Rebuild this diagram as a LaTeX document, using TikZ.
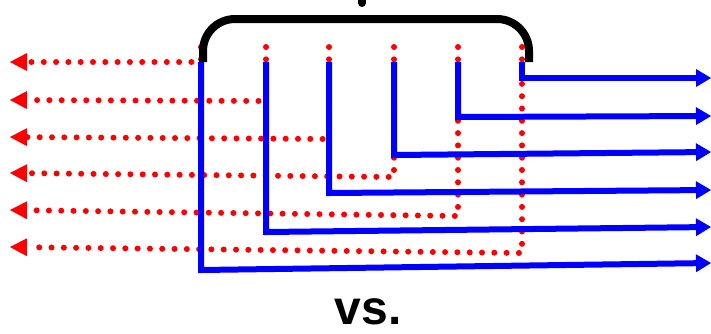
\documentclass[tikz,border=0pt]{standalone}
\usepackage{fontspec}
\setmainfont{Liberation Sans}
\usetikzlibrary{arrows.meta}

\tikzset{
  redpath/.style={draw=red, line width=6pt, line cap=round,
    dash pattern=on 0pt off 12.3pt,
    -{Triangle[length=17pt,width=18pt,fill=red,line width=0pt]}},
  bluepath/.style={draw=blue, line width=6pt, line join=miter,
    -{Triangle[length=15pt,width=18pt,fill=blue,line width=0pt]}},
  bracket/.style={draw=black, line width=8pt, rounded corners=32pt},
}

\begin{document}
\begin{tikzpicture}[x=1pt,y=-1pt]
  \useasboundingbox (0,0) rectangle (711,333);

  % top ends of the six strands
  \foreach \i/\x in {1/201,2/266,3/329,4/394,5/458,6/522}{
    \coordinate (rt\i) at (\x,47);
    \coordinate (bt\i) at (\x,62);
  }

  % red strands: down, then left to the arrowheads
  \foreach \i/\x/\yr/\yl in {1/201/62/62,2/266/101/100,3/329/139/137,
                             4/394/177/173,5/458/216/210,6/522/253/247}{
    \coordinate (rc\i) at (\x,\yr);
    \coordinate (re\i) at (10,\yl);
    \draw[redpath] (rt\i) -- (rc\i) -- (re\i);
  }

  % blue strands: down, then right to the arrowheads
  \foreach \i/\x/\yb/\ye in {1/201/270/263,2/266/232/227,3/329/193/190,
                             4/394/155/152,5/458/117/116,6/522/78/78}{
    \coordinate (bc\i) at (\x,\yb);
    \coordinate (be\i) at (711,\ye);
    \draw[bluepath] (bt\i) -- (bc\i) -- (be\i);
  }

  % bracket over the strands
  \coordinate (bl) at (203,62);
  \coordinate (br) at (529,62);
  \draw[bracket] (bl) -- (203,19) -- (529,19) -- (br);
  \draw[line width=8pt, line cap=round] (362,-10) -- (362,3);

  \node[anchor=base, font=\fontsize{48}{48}\selectfont\bfseries, inner sep=0pt]
    (vs) at (368,324) {vs.};
\end{tikzpicture}
\end{document}
